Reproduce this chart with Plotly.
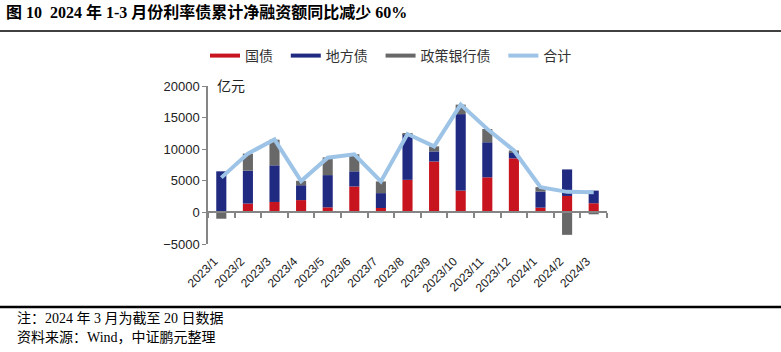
import plotly.graph_objects as go

categories = ["2023/1", "2023/2", "2023/3", "2023/4", "2023/5", "2023/6", "2023/7", "2023/8",
              "2023/9", "2023/10", "2023/11", "2023/12", "2024/1", "2024/2", "2024/3"]
gov_bond = [0, 1400, 1650, 1950, 800, 4100, 700, 5150, 8050, 3450, 5550, 8550, 750, 2600, 1450]
local_bond = [6500, 5200, 5800, 2350, 5100, 2400, 2350, 7250, 1600, 12100, 5550, 950, 2550, 4200, 2000]
policy_bond = [-1000, 2700, 4050, 700, 2800, 2700, 1850, 100, 800, 1500, 2100, 300, 700, -3550, -300]
total = [5500, 9300, 11550, 4950, 8650, 9200, 4900, 12400, 10450, 17050, 13200, 9800, 4000, 3250, 3200]
y_ticks = [-5000, 0, 5000, 10000, 15000, 20000]
y_tick_text = ["−5000", "0", "5000", "10000", "15000", "20000"]

RED = "#C8141F"
NAVY = "#1F2A80"
GRAY = "#686868"
LIGHT = "#9DC3E6"
AXIS = "#858585"

L, R, T, B = 208, 607, 86, 244
PW, PH = R - L, B - T
NB = "\u00a0\u00a0"


def px(xp):
    return (xp - L) / PW


def py(yp):
    return (B - yp) / PH


fig = go.Figure()
for name, vals, col in [("国债", gov_bond, RED), ("地方债", local_bond, NAVY), ("政策银行债", policy_bond, GRAY)]:
    fig.add_trace(go.Bar(x=categories, y=vals, name=name, marker=dict(color=col, line=dict(width=0)),
                         showlegend=False))
fig.add_trace(go.Scatter(x=categories, y=total, name="合计", mode="lines",
                         line=dict(color=LIGHT, width=4), showlegend=False))

# legend entries drawn as line samples
for name, col in [("国债", RED), ("地方债", NAVY), ("政策银行债", GRAY), ("合计", LIGHT)]:
    fig.add_trace(go.Scatter(x=[None], y=[None], name=name + NB, mode="lines",
                             line=dict(color=col, width=4), showlegend=True))

# main category axis sits at zero (line + boundary ticks); labels come from xaxis2 at the bottom
fig.add_trace(go.Scatter(x=categories, y=[0] * len(categories), xaxis="x2", mode="markers",
                         marker=dict(opacity=0, size=1), showlegend=False, hoverinfo="skip"))

fig.update_layout(
    width=781, height=352,
    margin=dict(l=L, r=781 - R, t=T, b=352 - B),
    paper_bgcolor="white", plot_bgcolor="white",
    barmode="relative", bargap=0.62,
    font=dict(family="Arial, Liberation Sans, Noto Sans CJK SC", size=12, color="#222"),
    showlegend=True,
    legend=dict(orientation="h", x=px(205), xanchor="left", y=py(56), yanchor="middle",
                font=dict(size=14, color="#333"), itemwidth=30, bgcolor="rgba(0,0,0,0)"),
    xaxis=dict(type="category", categoryorder="array", categoryarray=categories,
               range=[-0.5, len(categories) - 0.5], anchor="free", position=0.2,
               showline=True, linecolor=AXIS, linewidth=1.5, ticks="outside", ticklen=5,
               tickwidth=1.5, tickcolor=AXIS, tickson="boundaries", showticklabels=False,
               showgrid=False, zeroline=False, layer="above traces"),
    xaxis2=dict(type="category", overlaying="x", anchor="y", side="bottom",
                categoryorder="array", categoryarray=categories,
                range=[-0.5, len(categories) - 0.5],
                showline=False, ticks="", tickangle=-45, tickfont=dict(size=12, color="#222"),
                ticklabelstandoff=7, ticklabelshift=-7,
                showgrid=False, zeroline=False),
    yaxis=dict(range=[-5000, 20000], tickvals=y_ticks, ticktext=y_tick_text, showline=True,
               linecolor=AXIS, linewidth=1.5,
               ticks="outside", ticklen=4, tickcolor=AXIS, showgrid=False, zeroline=False,
               tickfont=dict(size=13, color="#222")),
)

fig.add_annotation(text="亿元", xref="paper", yref="paper", x=px(215), y=py(86), xanchor="left",
                   yanchor="middle", showarrow=False, font=dict(size=14, color="#222"))
fig.add_annotation(text="<b>图 10  2024 年 1-3 月份利率债累计净融资额同比减少 60%</b>",
                   xref="paper", yref="paper", x=px(4), y=py(12), xanchor="left",
                   yanchor="middle", showarrow=False,
                   font=dict(size=16, family="Liberation Serif, Noto Sans CJK SC", color="#000"))
fig.add_annotation(text="注：2024 年 3 月为截至 20 日数据", xref="paper", yref="paper",
                   x=px(15), y=py(318), xanchor="left", yanchor="middle", showarrow=False,
                   font=dict(size=14, family="Liberation Serif, Noto Sans CJK SC", color="#000"))
fig.add_annotation(text="资料来源：Wind，中证鹏元整理", xref="paper", yref="paper",
                   x=px(15), y=py(337), xanchor="left", yanchor="middle", showarrow=False,
                   font=dict(size=14, family="Liberation Serif, Noto Sans CJK SC", color="#000"))

fig.add_shape(type="line", xref="paper", yref="paper", x0=px(0), x1=px(781),
              y0=py(31), y1=py(31), line=dict(color="#000", width=1.5))
fig.add_shape(type="line", xref="paper", yref="paper", x0=px(0), x1=px(781),
              y0=py(307), y1=py(307), line=dict(color="#000", width=2.5))

fig.write_html("out.html")
